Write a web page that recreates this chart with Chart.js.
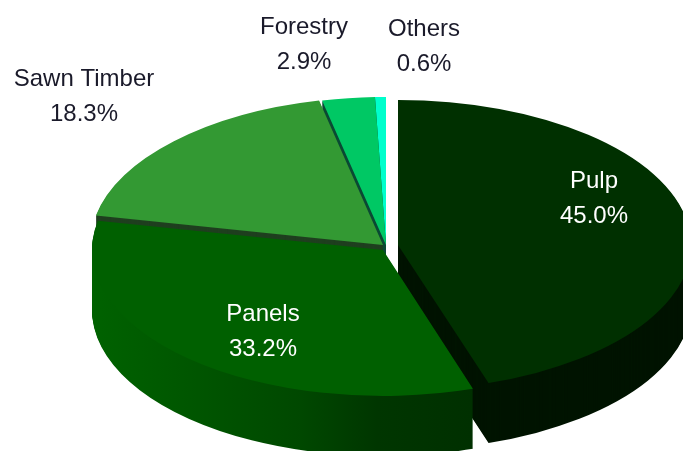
<!DOCTYPE html>
<html>
<head>
<meta charset="utf-8">
<style>
  html, body { margin: 0; padding: 0; background: #fff; overflow: hidden; }
  canvas { display: block; filter: blur(0.5px); }
</style>
<script src="https://cdn.jsdelivr.net/npm/chart.js@4/dist/chart.umd.min.js"></script>
</head>
<body>
<canvas id="pie" width="683" height="451"></canvas>
<script>
const categories = ["Pulp", "Panels", "Sawn Timber", "Forestry", "Others"];
const shares = [45.0, 33.2, 18.3, 2.9, 0.6];

// look of each slice, same order as categories
const topColors = ["#003000", "#006000", "#339933", "#00c864", "#00ffcc"];
const wallColors = ["#001400", null, "#1f3f1f", "#0b4a34", "#0b4a34"];
const shiftX = [13, -2, -2, 1, 1];
const shiftY = [0, 5, 0, 0, 0];
const radiusX = [293, 291, 293, 293, 293];
const radiusY = [145, 146, 148, 148, 148];
const labelX = [594, 263, 84, 304, 424];
const labelY = [181, 314, 79, 27, 29];
const labelColors = ["#fff", "#fff", "#1a1a2a", "#1a1a2a", "#1a1a2a"];

const CENTER_X = 385, CENTER_Y = 245, DEPTH = 60;

const pie3d = {
	id: "pie3d",
	beforeDatasetsDraw(chart) {
		const ctx = chart.ctx;
		const arcs = chart.getDatasetMeta(0).data;

		const place = (i, down) => {
			ctx.save();
			ctx.translate(CENTER_X + shiftX[i], CENTER_Y + shiftY[i] + down);
			ctx.scale(radiusX[i] / arcs[i].outerRadius, radiusY[i] / arcs[i].outerRadius);
			ctx.translate(-arcs[i].x, -arcs[i].y);
		};

		// panels wall fades from left to right
		const toUserX = (x) => ((x - CENTER_X - shiftX[1]) * arcs[1].outerRadius) / radiusX[1] + arcs[1].x;
		const panelsWall = ctx.createLinearGradient(toUserX(92), 0, toUserX(472), 0);
		panelsWall.addColorStop(0, "#006200");
		panelsWall.addColorStop(0.3, "#005400");
		panelsWall.addColorStop(0.55, "#004800");
		panelsWall.addColorStop(0.75, "#003600");
		panelsWall.addColorStop(1, "#003000");

		// walls first, back to front, the tops then hide what they should
		[4, 3, 2, 0, 1].forEach((i) => {
			const base = arcs[i].options;
			const options = Object.create(base);
			options.backgroundColor = i === 1 ? panelsWall : wallColors[i];
			options.borderWidth = 0;
			arcs[i].options = options;
			for (let d = DEPTH; d > 0; d--) {
				place(i, d);
				arcs[i].draw(ctx);
				ctx.restore();
			}
			arcs[i].options = base;
		});

		[4, 3, 2, 0, 1].forEach((i) => {
			place(i, 0);
			arcs[i].draw(ctx);
			ctx.restore();
		});

		ctx.save();
		ctx.font = "24px 'Liberation Sans', Arial, sans-serif";
		ctx.textAlign = "center";
		ctx.textBaseline = "middle";
		categories.forEach((name, i) => {
			ctx.fillStyle = labelColors[i];
			ctx.fillText(name, labelX[i], labelY[i]);
			ctx.fillText(shares[i].toFixed(1) + "%", labelX[i], labelY[i] + 35);
		});
		ctx.restore();
		return false;
	},
};

new Chart(document.getElementById("pie"), {
	type: "pie",
	data: {
		labels: categories,
		datasets: [
			{
				data: shares,
				backgroundColor: topColors,
				borderWidth: 0,
			},
		],
	},
	options: {
		responsive: false,
		animation: false,
		events: [],
		plugins: {
			legend: { display: false },
			tooltip: { enabled: false },
		},
	},
	plugins: [pie3d],
});
</script>
</body>
</html>
